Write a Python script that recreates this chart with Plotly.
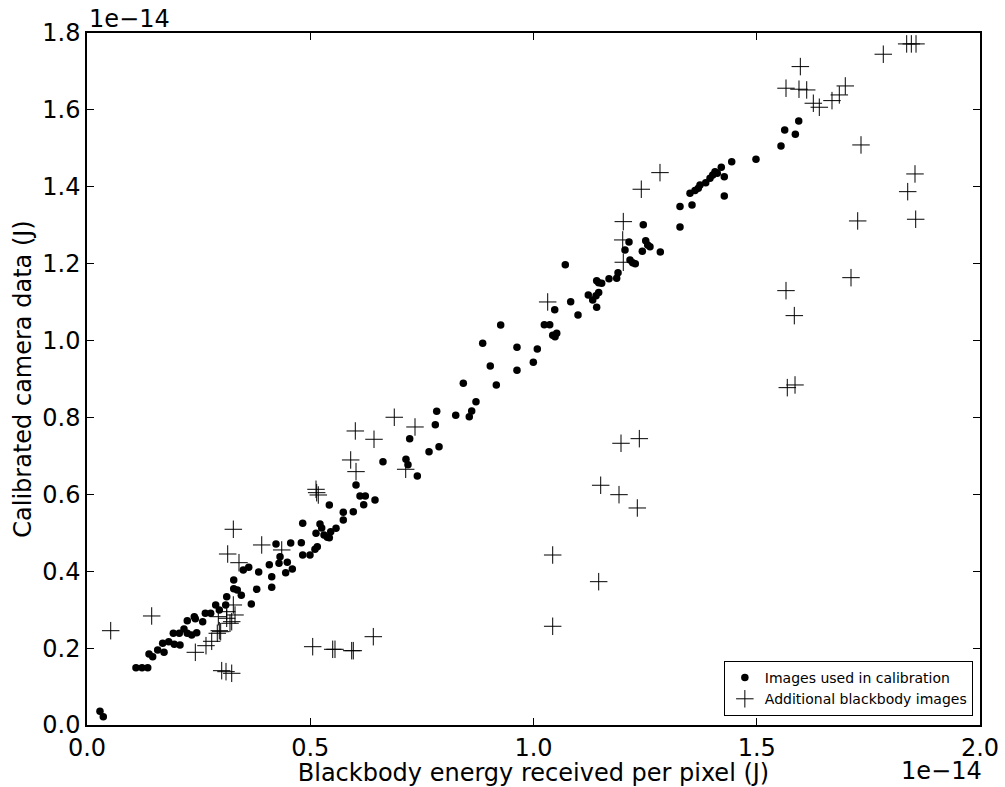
import plotly.graph_objects as go

# Values in units of 1e-14 J
calib_x = [0.029, 0.0365, 0.1097, 0.1232, 0.136, 0.1389, 0.1471, 0.1583, 0.1725, 0.1695,
           0.183, 0.1955, 0.2083, 0.1933, 0.2067, 0.2172, 0.2246, 0.2345, 0.2457, 0.2246,
           0.2403, 0.2426, 0.2591, 0.265, 0.277, 0.2882, 0.2963, 0.3106, 0.3129, 0.3286,
           0.3286, 0.3366, 0.3456, 0.35, 0.3622, 0.368, 0.3801, 0.3845, 0.4083, 0.4137,
           0.4137, 0.4233, 0.4323, 0.43, 0.445, 0.4486, 0.4598, 0.4562, 0.48, 0.4831,
           0.4831, 0.4994, 0.5106, 0.5158, 0.5129, 0.5218, 0.5256, 0.5308, 0.5382, 0.5427,
           0.5458, 0.5577, 0.5427, 0.574, 0.574, 0.5964, 0.6025, 0.6114, 0.6233, 0.6197,
           0.645, 0.6629, 0.7144, 0.7189, 0.7398, 0.7227, 0.766, 0.7884, 0.7801, 0.7832,
           0.8258, 0.8616, 0.8562, 0.8428, 0.8712, 0.8862, 0.9032, 0.9167, 0.9265, 0.963,
           0.963, 1.0085, 0.9996, 1.0242, 1.0363, 1.043, 1.052, 1.0482, 1.0475, 1.0712,
           1.0833, 1.0997, 1.1227, 1.1326, 1.1415, 1.146, 1.14, 1.1415, 1.146, 1.1527,
           1.1691, 1.1863, 1.1893, 1.2049, 1.2139, 1.2161, 1.2222, 1.228, 1.2459, 1.2513,
           1.2558, 1.2609, 1.2437, 1.284, 1.3281, 1.3281, 1.355, 1.3505, 1.3617, 1.3691,
           1.3729, 1.3857, 1.3953, 1.4014, 1.4065, 1.4117, 1.4206, 1.4273, 1.4273, 1.4439,
           1.4983, 1.5543, 1.5626, 1.5864, 1.594]
calib_y = [0.036, 0.0216, 0.149, 0.149, 0.149, 0.1847, 0.1777, 0.1951, 0.1891, 0.2125,
           0.2167, 0.2099, 0.2081, 0.2386, 0.2386, 0.2497, 0.2386, 0.2341, 0.2401, 0.2713,
           0.2817, 0.2765, 0.2687, 0.2906, 0.2906, 0.3122, 0.2992, 0.3122, 0.3338, 0.3772,
           0.3546, 0.3512, 0.3374, 0.4032, 0.4103, 0.3148, 0.353, 0.398, 0.417, 0.3858,
           0.3582, 0.4709, 0.4378, 0.4207, 0.3962, 0.4233, 0.4058, 0.4735, 0.4743, 0.5247,
           0.4423, 0.4423, 0.4571, 0.4639, 0.4987, 0.5229, 0.5125, 0.4943, 0.4883, 0.4873,
           0.5029, 0.5117, 0.5723, 0.5533, 0.5333, 0.5549, 0.6244, 0.5957, 0.5957, 0.5731,
           0.5853, 0.685, 0.6912, 0.6772, 0.6478, 0.7448, 0.711, 0.724, 0.7812, 0.8161,
           0.8057, 0.8169, 0.802, 0.8889, 0.841, 0.993, 0.9339, 0.8845, 1.0406, 0.9826,
           0.9227, 0.9781, 0.9435, 1.0414, 1.0414, 1.0138, 1.019, 1.0102, 1.0804, 1.1975,
           1.1012, 1.0666, 1.1186, 1.1056, 1.0866, 1.1247, 1.1168, 1.1558, 1.1506, 1.1491,
           1.161, 1.1621, 1.1766, 1.2357, 1.2565, 1.2097, 1.2027, 1.2001, 1.3015, 1.2599,
           1.2487, 1.2443, 1.2323, 1.2305, 1.3484, 1.2955, 1.3528, 1.3832, 1.39, 1.3962,
           1.4048, 1.4108, 1.4222, 1.4308, 1.4394, 1.4352, 1.4508, 1.4264, 1.3762, 1.4654,
           1.4716, 1.5062, 1.5478, 1.5367, 1.5713]

extra_x = [0.0531, 0.1449, 0.2426, 0.2665, 0.2793, 0.2918, 0.2994, 0.2963, 0.3017, 0.3113,
           0.3241, 0.2941, 0.3129, 0.3241, 0.3315, 0.3129, 0.3277, 0.3203, 0.3277, 0.3151,
           0.3404, 0.3913, 0.4361, 0.5129, 0.518, 0.5144, 0.5055, 0.5554, 0.5503, 0.5964,
           0.5928, 0.6412, 0.6882, 0.7346, 0.6009, 0.6428, 0.5906, 0.6025, 0.7138, 1.0318,
           1.2011, 1.1998, 1.2011, 1.2414, 1.2833, 1.196, 1.237, 1.1505, 1.1915, 1.2325,
           1.043, 1.146, 1.043, 1.8358, 1.8462, 1.8567, 1.7834, 1.5976, 1.5655, 1.5946,
           1.6119, 1.6267, 1.6401, 1.6685, 1.6849, 1.6983, 1.7335, 1.8544, 1.8381, 1.7261,
           1.856, 1.7111, 1.5655, 1.5841, 1.5684, 1.5857]
extra_y = [0.2453, 0.2836, 0.1891, 0.2063, 0.2177, 0.2386, 0.2427, 0.2453, 0.1413, 0.1387,
           0.1345, 0.2817, 0.2776, 0.2687, 0.2862, 0.2947, 0.3122, 0.2646, 0.5091, 0.4448,
           0.4222, 0.4683, 0.4553, 0.6131, 0.5983, 0.6043, 0.2037, 0.1969, 0.1969, 0.1933,
           0.1933, 0.2297, 0.8005, 0.7752, 0.7648, 0.7432, 0.6894, 0.659, 0.6652, 1.1004,
           1.2037, 1.2617, 1.3093, 1.3936, 1.4368, 0.7328, 0.7448, 0.6236, 0.5991, 0.5645,
           0.4422, 0.3728, 0.2568, 1.7716, 1.7716, 1.7716, 1.7448, 1.7126, 1.6564, 1.6538,
           1.6519, 1.6173, 1.6069, 1.6241, 1.6389, 1.6623, 1.5088, 1.4334, 1.3873, 1.3111,
           1.3155, 1.1636, 1.1298, 1.0648, 0.8775, 0.8845]

x_ticks = [0.0, 0.5, 1.0, 1.5, 2.0]
y_ticks = [0.0, 0.2, 0.4, 0.6, 0.8, 1.0, 1.2, 1.4, 1.6, 1.8]
x_label = "Blackbody energy received per pixel (J)"
y_label = "Calibrated camera data (J)"
exponent = "1e\u221214"

FONT = "DejaVu Sans"
FS = 24

fig = go.Figure()
fig.add_trace(go.Scatter(
    x=calib_x, y=calib_y, mode="markers", name="Images used in calibration",
    marker=dict(symbol="circle", size=7.5, color="black", line=dict(width=0)),
))
fig.add_trace(go.Scatter(
    x=extra_x, y=extra_y, mode="markers", name="Additional blackbody images",
    marker=dict(symbol="cross-thin", size=12.5, color="black",
                line=dict(width=1, color="black")),
))

axis_common = dict(
    showline=True, linecolor="black", linewidth=1.5, mirror="allticks",
    ticks="inside", ticklen=7, tickwidth=1, tickcolor="black",
    showgrid=False, zeroline=False, tickformat=".1f", automargin=False,
    tickfont=dict(family=FONT, size=FS, color="black"),
)
fig.update_xaxes(range=[0, 2.0], tickvals=x_ticks, **axis_common,
                 title=dict(text=x_label, font=dict(family=FONT, size=FS, color="black"),
                            standoff=0))
fig.update_yaxes(range=[0, 1.8], tickvals=y_ticks, **axis_common,
                 title=dict(text=y_label, font=dict(family=FONT, size=FS, color="black"),
                            standoff=4))

fig.add_annotation(text=exponent, xref="paper", yref="paper", x=0, y=1,
                   xanchor="left", yanchor="bottom", showarrow=False, yshift=-2,
                   font=dict(family=FONT, size=FS, color="black"))
fig.add_annotation(text=exponent, xref="paper", yref="paper", x=1, y=0,
                   xanchor="right", yanchor="top", showarrow=False, yshift=-30, xshift=4,
                   font=dict(family=FONT, size=FS, color="black"))

fig.update_layout(
    width=1005, height=787,
    margin=dict(l=87, r=25, t=33, b=62),
    paper_bgcolor="white", plot_bgcolor="white",
    font=dict(family=FONT, color="black"),
    legend=dict(x=0.992, y=0.013, xanchor="right", yanchor="bottom",
                bordercolor="black", borderwidth=1, bgcolor="white",
                font=dict(family=FONT, size=14, color="black"),
                itemwidth=30, tracegroupgap=0),
)

fig.write_html("out.html")
